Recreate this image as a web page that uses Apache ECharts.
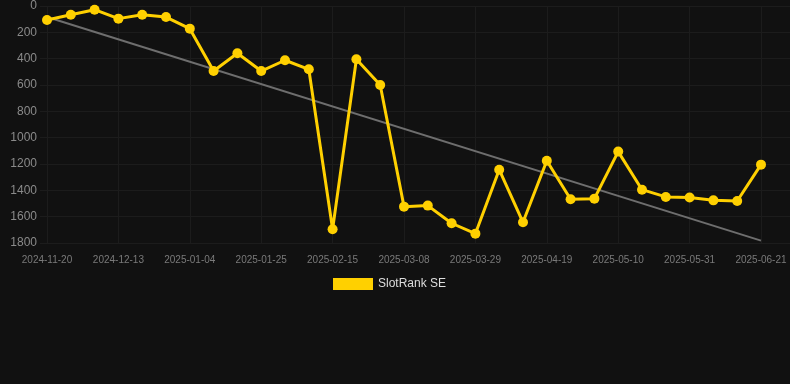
<!DOCTYPE html>
<html>
<head>
<meta charset="utf-8">
<script src="https://cdn.jsdelivr.net/npm/echarts@6/dist/echarts.min.js"></script>
<style>
  html, body { margin: 0; padding: 0; background: #111111; }
  #chart { width: 790px; height: 384px; }
</style>
</head>
<body>
<div id="chart"></div>
<script>
const dates = [
  '2024-11-20', '2024-11-27', '2024-12-05', '2024-12-13', '2024-12-20', '2024-12-27',
  '2025-01-04', '2025-01-11', '2025-01-18', '2025-01-25', '2025-02-01', '2025-02-08',
  '2025-02-15', '2025-02-22', '2025-03-01', '2025-03-08', '2025-03-15', '2025-03-22',
  '2025-03-29', '2025-04-05', '2025-04-12', '2025-04-19', '2025-04-26', '2025-05-03',
  '2025-05-10', '2025-05-17', '2025-05-24', '2025-05-31', '2025-06-07', '2025-06-14',
  '2025-06-21'
];

const rankSE = [
  106, 66, 28, 96, 66, 84, 172, 494, 359, 494, 412, 481,
  1696, 405, 600, 1524, 1516, 1650, 1729, 1243, 1643, 1175,
  1468, 1463, 1106, 1395, 1450, 1455, 1476, 1481, 1205
];

// trend line: only the two ends are known
const trend = dates.map(() => null);
trend[0] = 84;
trend[dates.length - 1] = 1782;

const TH = {
  BG_COLOR: '#111111',
  FG_COLOR: '#dddddd',
  LABEL_COLOR: '#8a8a8a',
  XLABEL_COLOR: '#7a7a7a',
  SPLIT_COLOR: '#1c1c1c',
  LINE_COLOR: '#ffd000',
  TREND_COLOR: '#6e6e6e',
};

const chart = echarts.init(document.getElementById('chart'));

const option = {
  backgroundColor: TH.BG_COLOR,
  animation: false,
  grid: [
    { left: 47, right: 29, top: 6, bottom: 141 },
    // wider grid only for the horizontal split lines
    { left: 40, right: 0, top: 6, bottom: 141 },
  ],
  legend: {
    top: 273,
    left: 328,
    itemWidth: 40,
    itemHeight: 12,
    icon: 'rect',
    data: ['SlotRank SE'],
    textStyle: { color: TH.FG_COLOR, fontSize: 12 },
  },
  xAxis: [
    {
      type: 'category',
      boundaryGap: false,
      data: dates,
      axisLine: { show: false },
      axisTick: { show: false },
      axisLabel: {
        color: TH.XLABEL_COLOR,
        fontSize: 10,
        interval: 2,
        margin: 12,
      },
      splitLine: {
        show: true,
        interval: 2,
        lineStyle: { color: TH.SPLIT_COLOR },
      },
    },
    { type: 'value', gridIndex: 1, show: false, min: 0, max: 1 },
  ],
  yAxis: [
    {
      type: 'value',
      inverse: true,
      min: 0,
      max: 1800,
      interval: 200,
      axisLine: { show: false },
      axisTick: { show: false },
      axisLabel: {
        color: TH.LABEL_COLOR,
        fontSize: 12,
        margin: 10,
        formatter: (v) => String(v),
      },
      splitLine: { show: false },
    },
    {
      type: 'value',
      gridIndex: 1,
      inverse: true,
      min: 0,
      max: 1800,
      interval: 200,
      axisLine: { show: false },
      axisTick: { show: false },
      axisLabel: { show: false },
      splitLine: { lineStyle: { color: TH.SPLIT_COLOR } },
    },
  ],
  series: [
    {
      name: 'trend',
      type: 'line',
      data: trend,
      connectNulls: true,
      symbol: 'none',
      lineStyle: { color: TH.TREND_COLOR, width: 2 },
      z: 1,
    },
    {
      name: 'SlotRank SE',
      type: 'line',
      data: rankSE,
      symbol: 'circle',
      symbolSize: 10,
      itemStyle: { color: TH.LINE_COLOR },
      lineStyle: { color: TH.LINE_COLOR, width: 3 },
      z: 2,
    },
  ],
};

chart.setOption(option);
</script>
</body>
</html>
